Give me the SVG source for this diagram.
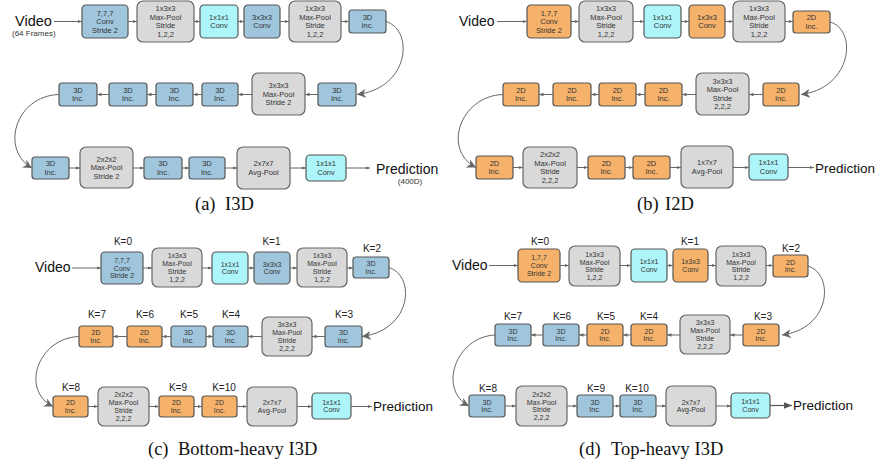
<svg xmlns="http://www.w3.org/2000/svg" width="878" height="468" viewBox="0 0 878 468">
<defs>
<style>
.b{fill:#a0c6de;stroke:#555;stroke-width:1.2}
.o{fill:#f6b26b;stroke:#555;stroke-width:1.2}
.g{fill:#d9d9d9;stroke:#666;stroke-width:1.2}
.c{fill:#aef5fa;stroke:#555;stroke-width:1.2}
.t{font-family:"Liberation Sans",Arial,sans-serif;font-size:7.5px;fill:#333;text-anchor:middle}
.s{font-family:"Liberation Sans",Arial,sans-serif;font-size:7px;fill:#333;text-anchor:middle}
.k{font-family:"Liberation Sans",Arial,sans-serif;font-size:10px;fill:#222;text-anchor:middle}
.big{font-family:"Liberation Sans",Arial,sans-serif;font-size:14px;fill:#111}
.sm{font-family:"Liberation Sans",Arial,sans-serif;font-size:8px;fill:#333}
.cap{font-family:"Liberation Serif","Times New Roman",serif;font-size:18.5px;fill:#111}
.e{stroke:#666;stroke-width:1;fill:none;marker-end:url(#ah)}
.cv{stroke:#666;stroke-width:1;fill:none;marker-end:url(#st)}
</style>
<marker id="ah" viewBox="0 0 10 10" refX="10" refY="5" markerWidth="4.5" markerHeight="4.5" markerUnits="userSpaceOnUse" orient="auto"><path d="M0,1 L10,5 L0,9 z" fill="#666"/></marker>
<marker id="ab" viewBox="0 0 10 10" refX="10" refY="5" markerWidth="8" markerHeight="8" markerUnits="userSpaceOnUse" orient="auto"><path d="M0,1 L10,5 L0,9 z" fill="#555"/></marker>
<marker id="st" viewBox="0 0 10 10" refX="10" refY="5" markerWidth="9" markerHeight="9" markerUnits="userSpaceOnUse" orient="auto"><path d="M0,0 L10,5 L0,10 L3,5 z" fill="#666"/></marker>
</defs>

<!-- Panel (a) -->
<g id="a-labels">
<text class="big" x="15" y="26" style="font-size:14.5px">Video</text>
<text class="sm" x="12" y="36">(64 Frames)</text>
<text class="big" x="376" y="174">Prediction</text>
<text class="sm" x="410" y="184" text-anchor="middle">(400D)</text>
<text class="cap" y="210"><tspan x="195">(a)</tspan><tspan x="225">I3D</tspan></text>
</g>
<g id="a1"><rect class="b" x="82" y="5" width="46" height="33" rx="4"/><text class="t" y="15.7"><tspan x="105">7,7,7</tspan><tspan x="105" dy="8.5">Conv</tspan><tspan x="105" dy="8.5">Stride 2</tspan></text></g>
<g id="a2"><rect class="g" x="137" y="1" width="57" height="41" rx="6"/><text class="t" y="11.45"><tspan x="165.5">1x3x3</tspan><tspan x="165.5" dy="8.5">Max-Pool</tspan><tspan x="165.5" dy="8.5">Stride</tspan><tspan x="165.5" dy="8.5">1,2,2</tspan></text></g>
<g id="a3"><rect class="c" x="200" y="5" width="38" height="33" rx="4"/><text class="t" y="19.95"><tspan x="219">1x1x1</tspan><tspan x="219" dy="8.5">Conv</tspan></text></g>
<g id="a4"><rect class="b" x="244" y="5" width="36" height="33" rx="4"/><text class="t" y="19.95"><tspan x="262">3x3x3</tspan><tspan x="262" dy="8.5">Conv</tspan></text></g>
<g id="a5"><rect class="g" x="289" y="1" width="52" height="41" rx="6"/><text class="t" y="11.45"><tspan x="315">1x3x3</tspan><tspan x="315" dy="8.5">Max-Pool</tspan><tspan x="315" dy="8.5">Stride</tspan><tspan x="315" dy="8.5">1,2,2</tspan></text></g>
<g id="a6"><rect class="b" x="349" y="10" width="37" height="23" rx="3"/><text class="t" y="19.95"><tspan x="367.5">3D</tspan><tspan x="367.5" dy="8.5">Inc.</tspan></text></g>
<g id="a7"><rect class="b" x="318" y="83" width="38" height="23" rx="3"/><text class="t" y="92.95"><tspan x="337">3D</tspan><tspan x="337" dy="8.5">Inc.</tspan></text></g>
<g id="a8"><rect class="g" x="252" y="73" width="53" height="42" rx="6"/><text class="t" y="88.2"><tspan x="278.5">3x3x3</tspan><tspan x="278.5" dy="8.5">Max-Pool</tspan><tspan x="278.5" dy="8.5">Stride 2</tspan></text></g>
<g id="a9"><rect class="b" x="202" y="83" width="36" height="23" rx="3"/><text class="t" y="92.95"><tspan x="220">3D</tspan><tspan x="220" dy="8.5">Inc.</tspan></text></g>
<g id="a10"><rect class="b" x="156" y="83" width="37" height="23" rx="3"/><text class="t" y="92.95"><tspan x="174.5">3D</tspan><tspan x="174.5" dy="8.5">Inc.</tspan></text></g>
<g id="a11"><rect class="b" x="109" y="83" width="38" height="23" rx="3"/><text class="t" y="92.95"><tspan x="128">3D</tspan><tspan x="128" dy="8.5">Inc.</tspan></text></g>
<g id="a12"><rect class="b" x="59" y="83" width="38" height="23" rx="3"/><text class="t" y="92.95"><tspan x="78">3D</tspan><tspan x="78" dy="8.5">Inc.</tspan></text></g>
<g id="a13"><rect class="b" x="32" y="157" width="37" height="22" rx="3"/><text class="t" y="166.45"><tspan x="50.5">3D</tspan><tspan x="50.5" dy="8.5">Inc.</tspan></text></g>
<g id="a14"><rect class="g" x="80" y="147" width="53" height="41" rx="6"/><text class="t" y="161.7"><tspan x="106.5">2x2x2</tspan><tspan x="106.5" dy="8.5">Max-Pool</tspan><tspan x="106.5" dy="8.5">Stride 2</tspan></text></g>
<g id="a15"><rect class="b" x="144" y="157" width="38" height="22" rx="3"/><text class="t" y="166.45"><tspan x="163">3D</tspan><tspan x="163" dy="8.5">Inc.</tspan></text></g>
<g id="a16"><rect class="b" x="189" y="157" width="36" height="22" rx="3"/><text class="t" y="166.45"><tspan x="207">3D</tspan><tspan x="207" dy="8.5">Inc.</tspan></text></g>
<g id="a17"><rect class="g" x="237" y="147" width="53" height="42" rx="6"/><text class="t" y="166.45"><tspan x="263.5">2x7x7</tspan><tspan x="263.5" dy="8.5">Avg-Pool</tspan></text></g>
<g id="a18"><rect class="c" x="306" y="155" width="40" height="26" rx="4"/><text class="t" y="166.45"><tspan x="326">1x1x1</tspan><tspan x="326" dy="8.5">Conv</tspan></text></g>

<!-- Panel (b) -->
<g id="b-labels">
<text class="big" x="459" y="25.5">Video</text>
<text class="big" x="815" y="172.5" style="font-size:13.5px">Prediction</text>
<text class="cap" y="210"><tspan x="637">(b)</tspan><tspan x="665">I2D</tspan></text>
</g>
<g id="b1"><rect class="o" x="527" y="5" width="44" height="33" rx="4"/><text class="t" y="15.7"><tspan x="549">1,7,7</tspan><tspan x="549" dy="8.5">Conv</tspan><tspan x="549" dy="8.5">Stride 2</tspan></text></g>
<g id="b2"><rect class="g" x="579" y="1" width="54" height="41" rx="6"/><text class="t" y="11.45"><tspan x="606">1x3x3</tspan><tspan x="606" dy="8.5">Max-Pool</tspan><tspan x="606" dy="8.5">Stride</tspan><tspan x="606" dy="8.5">1,2,2</tspan></text></g>
<g id="b3"><rect class="c" x="644" y="5" width="37" height="33" rx="4"/><text class="t" y="19.95"><tspan x="662.5">1x1x1</tspan><tspan x="662.5" dy="8.5">Conv</tspan></text></g>
<g id="b4"><rect class="o" x="689" y="5" width="36" height="33" rx="4"/><text class="t" y="19.95"><tspan x="707">1x3x3</tspan><tspan x="707" dy="8.5">Conv</tspan></text></g>
<g id="b5"><rect class="g" x="733" y="1" width="52" height="41" rx="6"/><text class="t" y="11.45"><tspan x="759">1x3x3</tspan><tspan x="759" dy="8.5">Max-Pool</tspan><tspan x="759" dy="8.5">Stride</tspan><tspan x="759" dy="8.5">1,2,2</tspan></text></g>
<g id="b6"><rect class="o" x="793" y="11" width="37" height="22" rx="3"/><text class="t" y="20.45"><tspan x="811.5">2D</tspan><tspan x="811.5" dy="8.5">Inc.</tspan></text></g>
<g id="b7"><rect class="o" x="763" y="83" width="36" height="23" rx="3"/><text class="t" y="92.95"><tspan x="781">2D</tspan><tspan x="781" dy="8.5">Inc.</tspan></text></g>
<g id="b8"><rect class="g" x="696" y="73" width="53" height="42" rx="6"/><text class="t" y="83.95"><tspan x="722.5">3x3x3</tspan><tspan x="722.5" dy="8.5">Max-Pool</tspan><tspan x="722.5" dy="8.5">Stride</tspan><tspan x="722.5" dy="8.5">2,2,2</tspan></text></g>
<g id="b9"><rect class="o" x="645" y="83" width="37" height="23" rx="3"/><text class="t" y="92.95"><tspan x="663.5">2D</tspan><tspan x="663.5" dy="8.5">Inc.</tspan></text></g>
<g id="b10"><rect class="o" x="599" y="83" width="37" height="23" rx="3"/><text class="t" y="92.95"><tspan x="617.5">2D</tspan><tspan x="617.5" dy="8.5">Inc.</tspan></text></g>
<g id="b11"><rect class="o" x="553" y="83" width="38" height="23" rx="3"/><text class="t" y="92.95"><tspan x="572">2D</tspan><tspan x="572" dy="8.5">Inc.</tspan></text></g>
<g id="b12"><rect class="o" x="503" y="83" width="36" height="23" rx="3"/><text class="t" y="92.95"><tspan x="521">2D</tspan><tspan x="521" dy="8.5">Inc.</tspan></text></g>
<g id="b13"><rect class="o" x="476" y="156" width="37" height="23" rx="3"/><text class="t" y="165.95"><tspan x="494.5">2D</tspan><tspan x="494.5" dy="8.5">Inc.</tspan></text></g>
<g id="b14"><rect class="g" x="523" y="147" width="54" height="41" rx="6"/><text class="t" y="157.45"><tspan x="550">2x2x2</tspan><tspan x="550" dy="8.5">Max-Pool</tspan><tspan x="550" dy="8.5">Stride</tspan><tspan x="550" dy="8.5">2,2,2</tspan></text></g>
<g id="b15"><rect class="o" x="588" y="156" width="37" height="23" rx="3"/><text class="t" y="165.95"><tspan x="606.5">2D</tspan><tspan x="606.5" dy="8.5">Inc.</tspan></text></g>
<g id="b16"><rect class="o" x="633" y="156" width="37" height="23" rx="3"/><text class="t" y="165.95"><tspan x="651.5">2D</tspan><tspan x="651.5" dy="8.5">Inc.</tspan></text></g>
<g id="b17"><rect class="g" x="681" y="146" width="52" height="42" rx="6"/><text class="t" y="165.45"><tspan x="707">1x7x7</tspan><tspan x="707" dy="8.5">Avg-Pool</tspan></text></g>
<g id="b18"><rect class="c" x="749" y="154" width="39" height="26" rx="4"/><text class="t" y="165.45"><tspan x="768.5">1x1x1</tspan><tspan x="768.5" dy="8.5">Conv</tspan></text></g>

<!-- Panel (c) -->
<g id="c-labels">
<text class="big" x="35" y="272">Video</text>
<text class="big" x="373" y="411" style="font-size:13.5px">Prediction</text>
<text class="cap" y="455"><tspan x="148">(c)</tspan><tspan x="178">Bottom-heavy I3D</tspan></text>
<text class="k" x="123" y="244.6">K=0</text>
<text class="k" x="271.5" y="244.6">K=1</text>
<text class="k" x="372" y="251.6">K=2</text>
<text class="k" x="344" y="317.6">K=3</text>
<text class="k" x="231" y="317.6">K=4</text>
<text class="k" x="189" y="317.6">K=5</text>
<text class="k" x="145" y="317.6">K=6</text>
<text class="k" x="97" y="317.6">K=7</text>
<text class="k" x="71" y="390.6">K=8</text>
<text class="k" x="178" y="390.6">K=9</text>
<text class="k" x="224" y="390.6">K=10</text>
</g>
<g id="c1"><rect class="b" x="101" y="252" width="42" height="32" rx="4"/><text class="s" y="262.7"><tspan x="122">7,7,7</tspan><tspan x="122" dy="7.8">Conv</tspan><tspan x="122" dy="7.8">Stride 2</tspan></text></g>
<g id="c2"><rect class="g" x="152" y="248" width="50" height="39" rx="6"/><text class="s" y="258.3"><tspan x="177">1x3x3</tspan><tspan x="177" dy="7.8">Max-Pool</tspan><tspan x="177" dy="7.8">Stride</tspan><tspan x="177" dy="7.8">1,2,2</tspan></text></g>
<g id="c3"><rect class="c" x="212" y="252" width="36" height="32" rx="4"/><text class="s" y="266.6"><tspan x="230">1x1x1</tspan><tspan x="230" dy="7.8">Conv</tspan></text></g>
<g id="c4"><rect class="b" x="254" y="252" width="36" height="32" rx="4"/><text class="s" y="266.6"><tspan x="272">3x3x3</tspan><tspan x="272" dy="7.8">Conv</tspan></text></g>
<g id="c5"><rect class="g" x="297" y="248" width="50" height="39" rx="6"/><text class="s" y="258.3"><tspan x="322">1x3x3</tspan><tspan x="322" dy="7.8">Max-Pool</tspan><tspan x="322" dy="7.8">Stride</tspan><tspan x="322" dy="7.8">1,2,2</tspan></text></g>
<g id="c6"><rect class="b" x="353" y="257" width="36" height="21" rx="3"/><text class="s" y="266.1"><tspan x="371">3D</tspan><tspan x="371" dy="7.8">Inc.</tspan></text></g>
<g id="c7"><rect class="b" x="325" y="326" width="37" height="21" rx="3"/><text class="s" y="335.1"><tspan x="343.5">3D</tspan><tspan x="343.5" dy="7.8">Inc.</tspan></text></g>
<g id="c8"><rect class="g" x="262" y="317" width="50" height="39" rx="6"/><text class="s" y="327.3"><tspan x="287">3x3x3</tspan><tspan x="287" dy="7.8">Max-Pool</tspan><tspan x="287" dy="7.8">Stride</tspan><tspan x="287" dy="7.8">2,2,2</tspan></text></g>
<g id="c9"><rect class="b" x="213" y="326" width="35" height="21" rx="3"/><text class="s" y="335.1"><tspan x="230.5">3D</tspan><tspan x="230.5" dy="7.8">Inc.</tspan></text></g>
<g id="c10"><rect class="b" x="171" y="326" width="35" height="21" rx="3"/><text class="s" y="335.1"><tspan x="188.5">3D</tspan><tspan x="188.5" dy="7.8">Inc.</tspan></text></g>
<g id="c11"><rect class="o" x="127" y="326" width="35" height="21" rx="3"/><text class="s" y="335.1"><tspan x="144.5">2D</tspan><tspan x="144.5" dy="7.8">Inc.</tspan></text></g>
<g id="c12"><rect class="o" x="79" y="326" width="34" height="21" rx="3"/><text class="s" y="335.1"><tspan x="96">2D</tspan><tspan x="96" dy="7.8">Inc.</tspan></text></g>
<g id="c13"><rect class="o" x="53" y="396" width="35" height="21" rx="3"/><text class="s" y="405.1"><tspan x="70.5">2D</tspan><tspan x="70.5" dy="7.8">Inc.</tspan></text></g>
<g id="c14"><rect class="g" x="98" y="387" width="51" height="39" rx="6"/><text class="s" y="397.3"><tspan x="123.5">2x2x2</tspan><tspan x="123.5" dy="7.8">Max-Pool</tspan><tspan x="123.5" dy="7.8">Stride</tspan><tspan x="123.5" dy="7.8">2,2,2</tspan></text></g>
<g id="c15"><rect class="o" x="159" y="396" width="35" height="21" rx="3"/><text class="s" y="405.1"><tspan x="176.5">2D</tspan><tspan x="176.5" dy="7.8">Inc.</tspan></text></g>
<g id="c16"><rect class="o" x="202" y="396" width="35" height="21" rx="3"/><text class="s" y="405.1"><tspan x="219.5">2D</tspan><tspan x="219.5" dy="7.8">Inc.</tspan></text></g>
<g id="c17"><rect class="g" x="247" y="387" width="50" height="39" rx="6"/><text class="s" y="405.1"><tspan x="272">2x7x7</tspan><tspan x="272" dy="7.8">Avg-Pool</tspan></text></g>
<g id="c18"><rect class="c" x="312" y="393" width="39" height="26" rx="4"/><text class="s" y="404.6"><tspan x="331.5">1x1x1</tspan><tspan x="331.5" dy="7.8">Conv</tspan></text></g>

<!-- Panel (d) -->
<g id="d-labels">
<text class="big" x="452" y="269.5">Video</text>
<text class="big" x="793" y="410" style="font-size:13.5px">Prediction</text>
<text class="cap" y="455"><tspan x="579">(d)</tspan><tspan x="611">Top-heavy I3D</tspan></text>
<text class="k" x="540" y="244.6">K=0</text>
<text class="k" x="690" y="244.6">K=1</text>
<text class="k" x="791" y="251.6">K=2</text>
<text class="k" x="763" y="319.6">K=3</text>
<text class="k" x="649" y="319.6">K=4</text>
<text class="k" x="606" y="319.6">K=5</text>
<text class="k" x="562" y="319.6">K=6</text>
<text class="k" x="513" y="319.6">K=7</text>
<text class="k" x="488" y="391.6">K=8</text>
<text class="k" x="596" y="391.6">K=9</text>
<text class="k" x="637" y="391.6">K=10</text>
</g>
<g id="d1"><rect class="o" x="518" y="249" width="42" height="33" rx="4"/><text class="s" y="260.2"><tspan x="539">1,7,7</tspan><tspan x="539" dy="7.8">Conv</tspan><tspan x="539" dy="7.8">Stride 2</tspan></text></g>
<g id="d2"><rect class="g" x="569" y="246" width="51" height="40" rx="6"/><text class="s" y="256.8"><tspan x="594.5">1x3x3</tspan><tspan x="594.5" dy="7.8">Max-Pool</tspan><tspan x="594.5" dy="7.8">Stride</tspan><tspan x="594.5" dy="7.8">1,2,2</tspan></text></g>
<g id="d3"><rect class="c" x="631" y="249" width="36" height="33" rx="4"/><text class="s" y="264.1"><tspan x="649">1x1x1</tspan><tspan x="649" dy="7.8">Conv</tspan></text></g>
<g id="d4"><rect class="o" x="673" y="249" width="35" height="33" rx="4"/><text class="s" y="264.1"><tspan x="690.5">1x3x3</tspan><tspan x="690.5" dy="7.8">Conv</tspan></text></g>
<g id="d5"><rect class="g" x="716" y="246" width="50" height="40" rx="6"/><text class="s" y="256.8"><tspan x="741">1x3x3</tspan><tspan x="741" dy="7.8">Max-Pool</tspan><tspan x="741" dy="7.8">Stride</tspan><tspan x="741" dy="7.8">1,2,2</tspan></text></g>
<g id="d6"><rect class="o" x="773" y="255" width="35" height="22" rx="3"/><text class="s" y="264.6"><tspan x="790.5">2D</tspan><tspan x="790.5" dy="7.8">Inc.</tspan></text></g>
<g id="d7"><rect class="o" x="743" y="324" width="36" height="22" rx="3"/><text class="s" y="333.6"><tspan x="761">2D</tspan><tspan x="761" dy="7.8">Inc.</tspan></text></g>
<g id="d8"><rect class="g" x="680" y="315" width="50" height="39" rx="6"/><text class="s" y="325.3"><tspan x="705">3x3x3</tspan><tspan x="705" dy="7.8">Max-Pool</tspan><tspan x="705" dy="7.8">Stride</tspan><tspan x="705" dy="7.8">2,2,2</tspan></text></g>
<g id="d9"><rect class="o" x="631" y="324" width="36" height="22" rx="3"/><text class="s" y="333.6"><tspan x="649">2D</tspan><tspan x="649" dy="7.8">Inc.</tspan></text></g>
<g id="d10"><rect class="o" x="587" y="324" width="36" height="22" rx="3"/><text class="s" y="333.6"><tspan x="605">2D</tspan><tspan x="605" dy="7.8">Inc.</tspan></text></g>
<g id="d11"><rect class="b" x="543" y="324" width="36" height="22" rx="3"/><text class="s" y="333.6"><tspan x="561">3D</tspan><tspan x="561" dy="7.8">Inc.</tspan></text></g>
<g id="d12"><rect class="b" x="495" y="324" width="36" height="22" rx="3"/><text class="s" y="333.6"><tspan x="513">3D</tspan><tspan x="513" dy="7.8">Inc.</tspan></text></g>
<g id="d13"><rect class="b" x="469" y="395" width="36" height="22" rx="3"/><text class="s" y="404.6"><tspan x="487">3D</tspan><tspan x="487" dy="7.8">Inc.</tspan></text></g>
<g id="d14"><rect class="g" x="516" y="386" width="51" height="40" rx="6"/><text class="s" y="396.8"><tspan x="541.5">2x2x2</tspan><tspan x="541.5" dy="7.8">Max-Pool</tspan><tspan x="541.5" dy="7.8">Stride</tspan><tspan x="541.5" dy="7.8">2,2,2</tspan></text></g>
<g id="d15"><rect class="b" x="577" y="395" width="36" height="22" rx="3"/><text class="s" y="404.6"><tspan x="595">3D</tspan><tspan x="595" dy="7.8">Inc.</tspan></text></g>
<g id="d16"><rect class="b" x="620" y="395" width="36" height="22" rx="3"/><text class="s" y="404.6"><tspan x="638">3D</tspan><tspan x="638" dy="7.8">Inc.</tspan></text></g>
<g id="d17"><rect class="g" x="666" y="386" width="50" height="40" rx="6"/><text class="s" y="404.6"><tspan x="691">2x7x7</tspan><tspan x="691" dy="7.8">Avg-Pool</tspan></text></g>
<g id="d18"><rect class="c" x="731" y="393" width="39" height="25" rx="4"/><text class="s" y="404.1"><tspan x="750.5">1x1x1</tspan><tspan x="750.5" dy="7.8">Conv</tspan></text></g>

<g id="connectors">
<!-- a -->
<path class="e" d="M54,21.5H82"/><path class="e" d="M128,21.5H137"/><path class="e" d="M194,21.5H200"/><path class="e" d="M238,21.5H244"/><path class="e" d="M280,21.5H289"/><path class="e" d="M341,21.5H349"/>
<path class="cv" d="M386,21.5 C414,30 410,88 357,94.5"/>
<path class="e" d="M318,94.5H305"/><path class="e" d="M252,94.5H238"/><path class="e" d="M202,94.5H193"/><path class="e" d="M156,94.5H147"/><path class="e" d="M109,94.5H97"/>
<path class="cv" d="M59,94.5 C15,96 0,150 32,168"/>
<path class="e" d="M69,168H80"/><path class="e" d="M133,168H144"/><path class="e" d="M182,168H189"/><path class="e" d="M225,168H237"/><path class="e" d="M290,168H306"/><path class="e" d="M346,168H370"/>
<!-- b -->
<path class="e" d="M497,21.5H527"/><path class="e" d="M571,21.5H579"/><path class="e" d="M633,21.5H644"/><path class="e" d="M681,21.5H689"/><path class="e" d="M725,21.5H733"/><path class="e" d="M785,21.5H793"/>
<path class="cv" d="M830,22 C858,30 852,88 801,94.5"/>
<path class="e" d="M763,94.5H749"/><path class="e" d="M696,94.5H682"/><path class="e" d="M645,94.5H636"/><path class="e" d="M599,94.5H591"/><path class="e" d="M553,94.5H539"/>
<path class="cv" d="M503,94.5 C460,96 442,150 476,167.5"/>
<path class="e" d="M513,167.5H523"/><path class="e" d="M577,167.5H588"/><path class="e" d="M625,167.5H633"/><path class="e" d="M670,167.5H681"/><path class="e" d="M733,167.5H749"/><path class="e" d="M788,167.5H814"/>
<!-- c -->
<path class="e" d="M72,268H101"/><path class="e" d="M143,268H152"/><path class="e" d="M202,268H212"/><path class="e" d="M248,268H254"/><path class="e" d="M290,268H297"/><path class="e" d="M347,268H353"/>
<path class="cv" d="M389,267.5 C416,276 412,330 362,336.5"/>
<path class="e" d="M325,336.5H312"/><path class="e" d="M262,336.5H248"/><path class="e" d="M213,336.5H206"/><path class="e" d="M171,336.5H162"/><path class="e" d="M127,336.5H113"/>
<path class="cv" d="M79,336.5 C38,338 20,390 53,406.5"/>
<path class="e" d="M88,406.5H98"/><path class="e" d="M149,406.5H159"/><path class="e" d="M194,406.5H202"/><path class="e" d="M237,406.5H247"/><path class="e" d="M297,406.5H312"/><path class="e" d="M351,406.5H372"/>
<!-- d -->
<path class="e" d="M489,265.5H518"/><path class="e" d="M560,265.5H569"/><path class="e" d="M620,265.5H631"/><path class="e" d="M667,265.5H673"/><path class="e" d="M708,265.5H716"/><path class="e" d="M766,265.5H773"/>
<path class="cv" d="M808,266 C834,274 832,328 782,335"/>
<path class="e" d="M743,335H730"/><path class="e" d="M680,335H667"/><path class="e" d="M631,335H623"/><path class="e" d="M587,335H579"/><path class="e" d="M543,335H531"/>
<path class="cv" d="M495,335 C455,337 438,390 469,406"/>
<path class="e" d="M505,406H516"/><path class="e" d="M567,406H577"/><path class="e" d="M613,406H620"/><path class="e" d="M656,406H666"/><path class="e" d="M716,406H731"/>
<path d="M770,405.5H792" stroke="#555" stroke-width="1.2" fill="none" marker-end="url(#ab)"/>
</g>
</svg>
